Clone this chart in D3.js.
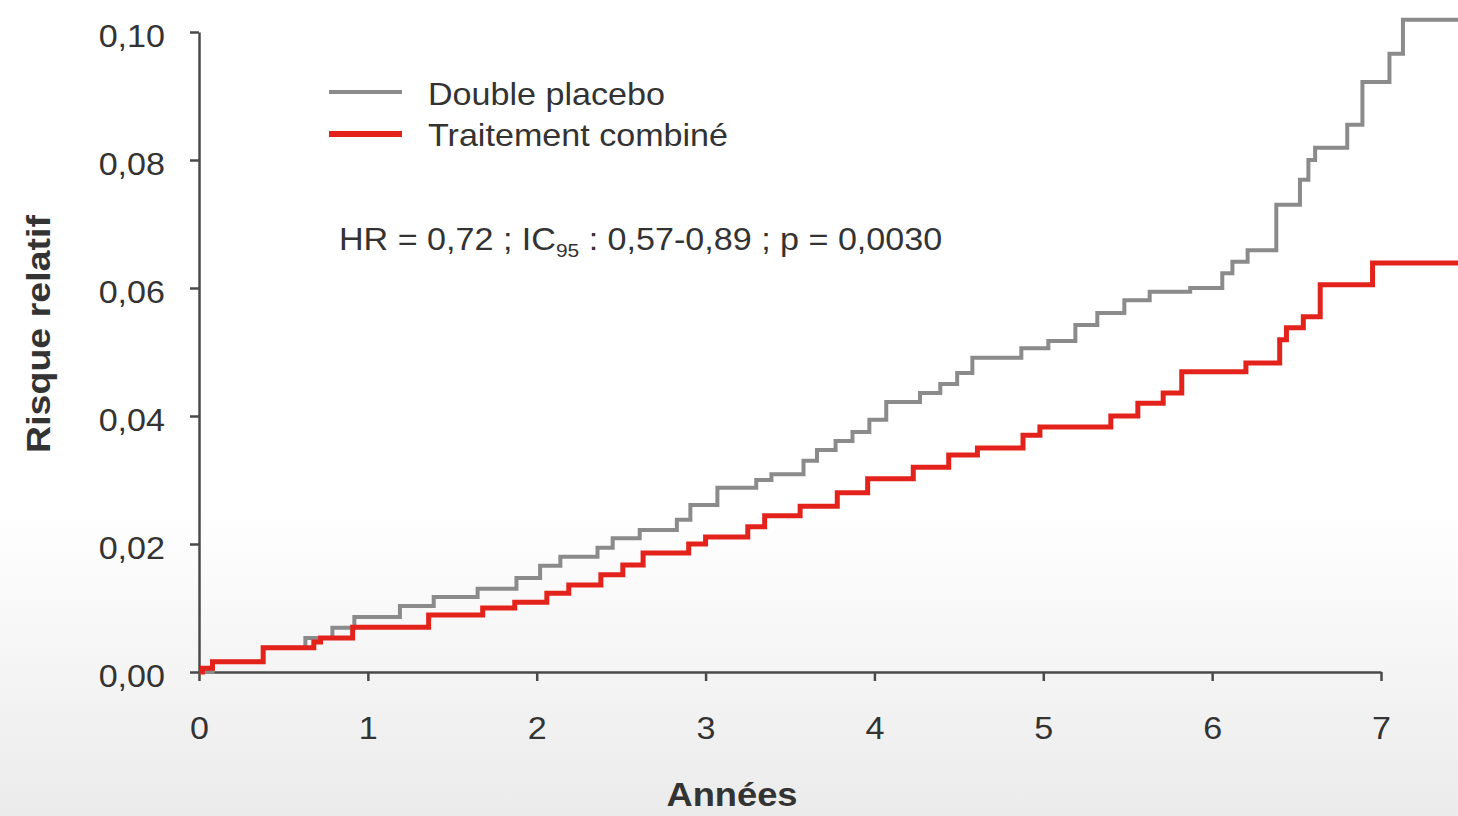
<!DOCTYPE html>
<html>
<head>
<meta charset="utf-8">
<script src="https://cdn.jsdelivr.net/npm/d3@7"></script>
<style>
  html, body { margin: 0; padding: 0; background: #fff; }
  svg { display: block; }
  text { font-family: "Liberation Sans", Arial, sans-serif; fill: #333; }
</style>
</head>
<body>
<svg id="chart" width="1458" height="816"></svg>
<script>
// ---- Data ----
const placeboTimes = [0, 0.08, 0.38, 0.63, 0.79, 0.92, 1.19, 1.39, 1.65, 1.88, 2.02, 2.14, 2.36, 2.45, 2.61, 2.83, 2.91, 3.07, 3.30, 3.39, 3.58, 3.66, 3.77, 3.87, 3.97, 4.07, 4.27, 4.39, 4.49, 4.58, 4.87, 5.03, 5.19, 5.32, 5.48, 5.63, 5.87, 6.06, 6.12, 6.21, 6.38, 6.52, 6.57, 6.61, 6.80, 6.89, 7.05, 7.13, 7.46];
const placeboRisk = [0, 0.0016, 0.0038, 0.0053, 0.0069, 0.0086, 0.0103, 0.0117, 0.0130, 0.0147, 0.0166, 0.0180, 0.0194, 0.0209, 0.0222, 0.0238, 0.0261, 0.0288, 0.0300, 0.0309, 0.0330, 0.0347, 0.0361, 0.0375, 0.0394, 0.0422, 0.0436, 0.0450, 0.0467, 0.0491, 0.0506, 0.0517, 0.0542, 0.0561, 0.0581, 0.0594, 0.0600, 0.0623, 0.0641, 0.0659, 0.0730, 0.0769, 0.0800, 0.0819, 0.0855, 0.0922, 0.0966, 0.1019, 0.1019];

const combinedTimes = [0, 0.02, 0.08, 0.38, 0.68, 0.72, 0.91, 1.36, 1.68, 1.87, 2.06, 2.19, 2.38, 2.51, 2.63, 2.90, 3.00, 3.25, 3.35, 3.56, 3.78, 3.96, 4.23, 4.44, 4.61, 4.88, 4.98, 5.40, 5.56, 5.71, 5.82, 6.20, 6.40, 6.44, 6.54, 6.64, 6.95, 7.46];
const combinedRisk = [0, 0.0006, 0.0016, 0.0038, 0.0047, 0.0053, 0.0070, 0.0089, 0.0100, 0.0109, 0.0123, 0.0136, 0.0152, 0.0167, 0.0186, 0.0200, 0.0211, 0.0227, 0.0244, 0.0259, 0.0280, 0.0302, 0.0320, 0.0339, 0.0350, 0.0370, 0.0383, 0.0400, 0.0420, 0.0436, 0.0469, 0.0483, 0.0519, 0.0538, 0.0555, 0.0605, 0.0639, 0.0639];

const xTicks = [0, 1, 2, 3, 4, 5, 6, 7];
const xTickLabels = ["0", "1", "2", "3", "4", "5", "6", "7"];
const yTicks = [0, 0.02, 0.04, 0.06, 0.08, 0.10];
const yTickLabels = ["0,00", "0,02", "0,04", "0,06", "0,08", "0,10"];

const seriesNames = ["Double placebo", "Traitement combiné"];
const seriesColors = ["#8b8b8b", "#e3231b"];
const xTitle = "Années";
const yTitle = "Risque relatif";

// ---- Chart ----
const W = 1458, H = 816;
const svg = d3.select("#chart");
const SX = 1.1; // horizontal stretch of the original slide

// background
const defs = svg.append("defs");
const grad = defs.append("linearGradient").attr("id", "bg").attr("x1", 0).attr("y1", 0).attr("x2", 0).attr("y2", 1);
grad.append("stop").attr("offset", "0%").attr("stop-color", "#ffffff");
grad.append("stop").attr("offset", "62%").attr("stop-color", "#ffffff");
grad.append("stop").attr("offset", "100%").attr("stop-color", "#ebebeb");
svg.append("rect").attr("width", W).attr("height", H).attr("fill", "url(#bg)");

const x = d3.scaleLinear().domain([0, 7]).range([199, 1381]);
const y = d3.scaleLinear().domain([0, 0.10]).range([672, 32]);

const line = d3.line().curve(d3.curveStepAfter).x(d => x(d[0])).y(d => y(d[1]));

// axes
const axisColor = "#4a4a4a";
const gx = svg.append("g").attr("transform", `translate(0,${y(0)})`)
  .call(d3.axisBottom(x).tickValues(xTicks).tickFormat((d, i) => xTickLabels[i]).tickSize(9).tickSizeOuter(0));
const gy = svg.append("g").attr("transform", `translate(${x(0)},0)`)
  .call(d3.axisLeft(y).tickValues(yTicks).tickFormat((d, i) => yTickLabels[i]).tickSize(9).tickSizeOuter(0));

[gx, gy].forEach(g => {
  g.select(".domain").attr("stroke", axisColor).attr("stroke-width", 2.5);
  g.selectAll(".tick line").attr("stroke", axisColor).attr("stroke-width", 2.5);
  g.selectAll(".tick text").attr("font-size", 31).attr("fill", "#333")
    .attr("font-family", "'Liberation Sans', Arial, sans-serif");
});
gx.selectAll(".tick text").attr("y", 0).attr("dy", 0)
  .attr("transform", `translate(0,67) scale(${SX},1)`);
gy.selectAll(".tick text").attr("x", 0).attr("dy", "0.4em")
  .attr("transform", `translate(-34,2) scale(${SX},1)`);

// curves
const placeboData = placeboTimes.map((t, i) => [t, placeboRisk[i]]);
const combinedData = combinedTimes.map((t, i) => [t, combinedRisk[i]]);

svg.append("path").datum(placeboData).attr("d", line)
  .attr("fill", "none").attr("stroke", seriesColors[0]).attr("stroke-width", 4);
svg.append("path").datum(combinedData).attr("d", line)
  .attr("fill", "none").attr("stroke", seriesColors[1]).attr("stroke-width", 5);

// legend
const legendY = [92, 134];
const legendBase = [105, 146];
seriesNames.forEach((name, i) => {
  svg.append("line").attr("x1", 329).attr("x2", 402).attr("y1", legendY[i]).attr("y2", legendY[i])
    .attr("stroke", seriesColors[i]).attr("stroke-width", i === 0 ? 4 : 6);
  svg.append("g").attr("transform", `translate(428,${legendBase[i]}) scale(${SX},1)`)
    .append("text").attr("font-size", 31).text(name);
});

// annotation
const ann = svg.append("g").attr("transform", `translate(339,250) scale(${SX},1)`)
  .append("text").attr("font-size", 31);
ann.append("tspan").text("HR = 0,72 ; IC");
ann.append("tspan").attr("font-size", 19).attr("dy", 7).text("95");
ann.append("tspan").attr("dy", -7).text(" : 0,57-0,89 ; p = 0,0030");

// axis titles
svg.append("g").attr("transform", `translate(732,806) scale(${SX},1)`)
  .append("text").attr("text-anchor", "middle").attr("font-size", 33).attr("font-weight", "bold")
  .attr("fill", "#2a2a2a").text(xTitle);
svg.append("g").attr("transform", `translate(50,334) rotate(-90)`)
  .append("text").attr("text-anchor", "middle").attr("font-size", 34).attr("font-weight", "bold")
  .attr("fill", "#2a2a2a").attr("textLength", 238).attr("lengthAdjust", "spacingAndGlyphs").text(yTitle);
</script>
</body>
</html>
